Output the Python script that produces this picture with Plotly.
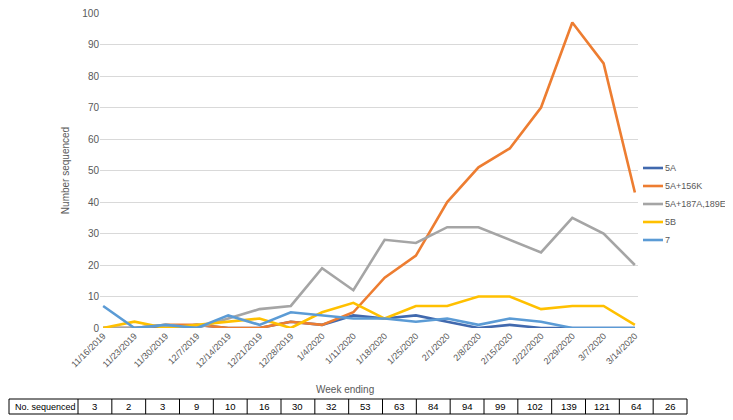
import plotly.graph_objects as go

weeks = ["11/16/2019", "11/23/2019", "11/30/2019", "12/7/2019", "12/14/2019",
         "12/21/2019", "12/28/2019", "1/4/2020", "1/11/2020", "1/18/2020",
         "1/25/2020", "2/1/2020", "2/8/2020", "2/15/2020", "2/22/2020",
         "2/29/2020", "3/7/2020", "3/14/2020"]

s_5a = [0, 0, 0, 1, 0, 0, 2, 1, 4, 3, 4, 2, 0, 1, 0, 0, 0, 0]
s_5a_156k = [0, 0, 1, 1, 0, 0, 2, 1, 5, 16, 23, 40, 51, 57, 70, 97, 84, 43]
s_5a_187a = [0, 0, 1, 0, 3, 6, 7, 19, 12, 28, 27, 32, 32, 28, 24, 35, 30, 20]
s_5b = [0, 2, 0, 1, 2, 3, 0, 5, 8, 3, 7, 7, 10, 10, 6, 7, 7, 1]
s_7 = [7, 0, 1, 0, 4, 1, 5, 4, 3, 3, 2, 3, 1, 3, 2, 0, 0, 0]

no_sequenced = [3, 2, 3, 9, 10, 16, 30, 32, 53, 63, 84, 94, 99, 102, 139, 121, 64, 26]

series = [
    ("5A", s_5a, "#4169AE"),
    ("5A+156K", s_5a_156k, "#ED7D31"),
    ("5A+187A,189E", s_5a_187a, "#A5A5A5"),
    ("5B", s_5b, "#FFC000"),
    ("7", s_7, "#5B9BD5"),
]

FONT = "Liberation Sans"
GREY = "#595959"

# the page body adds an 8px margin, so the figure starts 8px in
OFF = 8
W, H = 733 - OFF, 420 - OFF

fig = go.Figure()
for name, vals, col in series:
    fig.add_trace(go.Scatter(
        x=list(range(len(weeks))), y=vals, name=name, mode="lines",
        line=dict(color=col, width=2.6), showlegend=False))

# plot area in screen pixels
L, R, T, B = 100, 638, 13, 328


def px(x):
    return (x - L) / (R - L)


def py(y):
    return (B - y) / (B - T)


def label(text, x, y, size, color, xanchor="center"):
    return dict(text=text, xref="paper", yref="paper", x=px(x), y=py(y),
                xanchor=xanchor, yanchor="middle", showarrow=False,
                font=dict(size=size, color=color))


shapes = []
annotations = []

# legend drawn by hand (Excel style, short line samples)
for i, (name, vals, col) in enumerate(series):
    yy = 168 + i * 18
    shapes.append(dict(type="line", xref="paper", yref="paper",
                       x0=px(643), x1=px(663), y0=py(yy), y1=py(yy),
                       line=dict(color=col, width=2.6)))
    annotations.append(label(name, 663, yy, 9, GREY, xanchor="left"))

# table under the chart
t_top, t_bot = 399, 414
x0, x1 = 9, 687
first_w = 78
col_w = (x1 - first_w) / len(no_sequenced)
shapes.append(dict(type="rect", xref="paper", yref="paper",
                   x0=px(x0), x1=px(x1), y0=py(t_bot), y1=py(t_top),
                   line=dict(color="black", width=1)))
edges = [first_w + i * col_w for i in range(len(no_sequenced))]
for e in edges:
    shapes.append(dict(type="line", xref="paper", yref="paper",
                       x0=px(e), x1=px(e), y0=py(t_bot), y1=py(t_top),
                       line=dict(color="black", width=1)))
t_mid = (t_top + t_bot) / 2
annotations.append(label("No. sequenced", (x0 + first_w) / 2 + 2, t_mid, 9, "black"))
for i, n in enumerate(no_sequenced):
    annotations.append(label(str(n), first_w + (i + 0.5) * col_w, t_mid, 9.5, "black"))

annotations.append(label("Week ending", 345, 389, 10, GREY))

fig.update_layout(
    width=W, height=H,
    margin=dict(l=L - OFF, r=OFF + W - R, t=T - OFF, b=OFF + H - B,
                autoexpand=False),
    paper_bgcolor="white", plot_bgcolor="white",
    font=dict(family=FONT, size=10, color=GREY),
    showlegend=False,
    xaxis=dict(tickmode="array", tickvals=list(range(len(weeks))),
               ticktext=weeks, tickangle=-45, range=[-0.1, 17.1],
               showgrid=False, zeroline=False, showline=False,
               automargin=False,
               tickfont=dict(size=9, color=GREY), ticks=""),
    yaxis=dict(range=[0, 100.01], tickvals=list(range(0, 101, 10)),
               showgrid=True, gridcolor="#D9D9D9",
               gridwidth=1, zeroline=False, showline=False, automargin=False,
               ticklabeloverflow="allow",
               ticks="", ticklen=0, tickfont=dict(size=10, color=GREY),
               title=dict(text="Number sequenced", standoff=10,
                          font=dict(size=10, color=GREY))),
    shapes=shapes,
    annotations=annotations,
)

fig.write_html("out.html")
